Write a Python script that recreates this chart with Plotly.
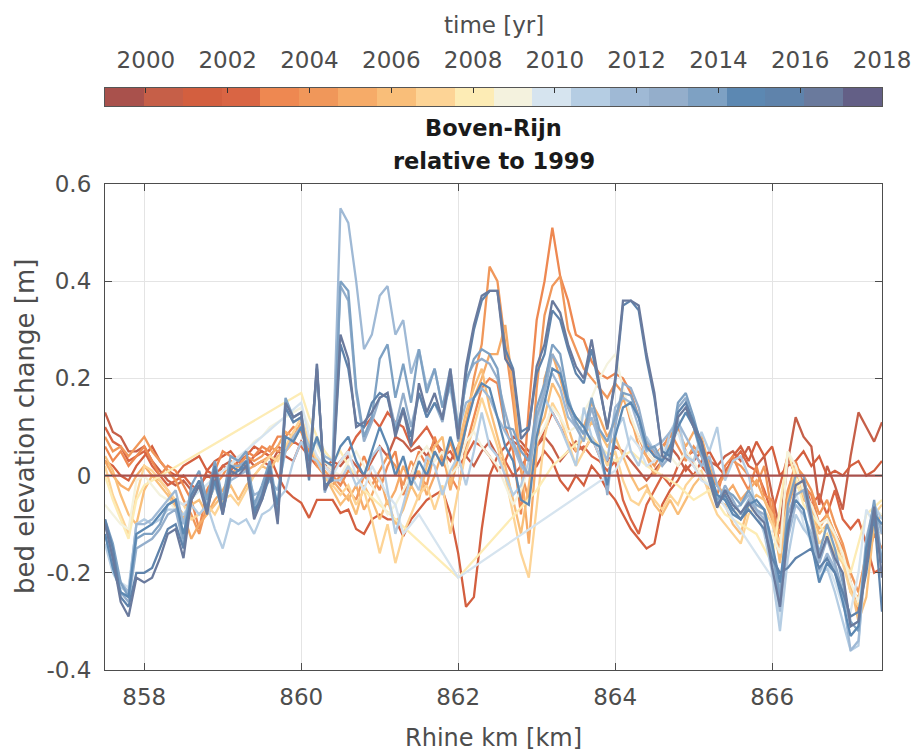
import plotly.graph_objects as go

# ---------------- data ----------------
km = [857.5, 857.6, 857.7, 857.8, 857.9, 858.0, 858.1, 858.2, 858.3, 858.4,
      858.5, 858.6, 858.7, 858.8, 858.9, 859.0, 859.1, 859.2, 859.3, 859.4,
      859.5, 859.6, 859.7, 859.8, 859.9, 860.0, 860.1, 860.2, 860.3, 860.4,
      860.5, 860.6, 860.7, 860.8, 860.9, 861.0, 861.1, 861.2, 861.3, 861.4,
      861.5, 861.6, 861.7, 861.8, 861.9, 862.0, 862.1, 862.2, 862.3, 862.4,
      862.5, 862.6, 862.7, 862.8, 862.9, 863.0, 863.1, 863.2, 863.3, 863.4,
      863.5, 863.6, 863.7, 863.8, 863.9, 864.0, 864.1, 864.2, 864.3, 864.4,
      864.5, 864.6, 864.7, 864.8, 864.9, 865.0, 865.1, 865.2, 865.3, 865.4,
      865.5, 865.6, 865.7, 865.8, 865.9, 866.0, 866.1, 866.2, 866.3, 866.4,
      866.5, 866.6, 866.7, 866.8, 866.9, 867.0, 867.1, 867.2, 867.3, 867.4]

km_1999 = [857.5, 867.4]
dz_1999 = [0.0, 0.0]

dz_2000 = [0.13, 0.09, 0.08, 0.05, 0.05, 0.06, 0.03, 0.01, -0.01, -0.02,
           -0.01, -0.03, -0.02, 0.00, -0.01, 0.02, 0.03, 0.02, 0.04, 0.02,
           0.03, 0.02, 0.05, 0.04, 0.03, 0.07, 0.05, 0.03, 0.02, 0.03,
           0.02, 0.04, 0.02, 0.00, 0.03, 0.06, 0.04, 0.08, 0.07, 0.05,
           0.06, 0.04, 0.07, 0.05, 0.03, 0.06, 0.04, 0.02, 0.05, 0.07,
           0.04, 0.06, 0.08, 0.07, 0.05, 0.06, 0.08, 0.06, 0.03, 0.05,
           0.07, 0.05, 0.08, 0.04, 0.03, 0.06, 0.05, 0.03, 0.01, -0.01,
           0.01, 0.03, 0.06, 0.04, 0.01, 0.03, 0.05, 0.03, 0.02, 0.04,
           0.05, 0.03, 0.06, 0.02, 0.04, -0.04, -0.11, 0.03, 0.12, 0.08,
           0.06, -0.06, 0.02, -0.02, -0.07, 0.04, 0.13, 0.10, 0.07, 0.11]

dz_2001 = [0.03, 0.02, 0.00, -0.01, 0.02, 0.04, 0.06, 0.03, 0.01, 0.00,
           0.02, 0.03, 0.04, 0.01, 0.03, 0.04, 0.05, 0.03, 0.04, 0.06,
           0.05, 0.04, 0.00, -0.03, -0.045, -0.056, -0.087, -0.05, -0.05, -0.05,
           -0.077, -0.07, -0.11, -0.12, -0.09, -0.08, -0.09, -0.09, -0.125, -0.09,
           -0.07, -0.05, -0.04, -0.03, -0.08, -0.16, -0.27, -0.25, -0.11, 0.00,
           0.04, 0.03, 0.07, 0.06, 0.04, 0.02, 0.05, 0.03, -0.01, -0.03,
           0.00, -0.02, 0.02, 0.00, -0.03, -0.05, -0.08, -0.11, -0.13, -0.15,
           -0.14, -0.06, -0.03, -0.01, 0.02, 0.00, 0.03, 0.05, 0.02, 0.00,
           0.04, 0.06, 0.03, 0.07, 0.04, 0.06, 0.00, 0.02, 0.03, 0.05,
           0.02, 0.04, 0.00, 0.01, 0.00, 0.02, 0.03, 0.00, 0.01, 0.03]

dz_2002 = [0.10, 0.07, 0.06, 0.03, 0.04, 0.05, 0.02, 0.00, -0.02, -0.01,
           0.00, -0.02, -0.03, 0.01, 0.00, 0.02, 0.01, 0.03, 0.02, 0.04,
           0.05, 0.04, 0.06, 0.05, 0.07, 0.06, 0.04, 0.02, 0.03, 0.01,
           0.03, 0.05, 0.08, 0.10, 0.12, 0.10, 0.13, 0.11, 0.10, 0.06,
           0.08, 0.10, 0.07, 0.04, 0.05, 0.02, 0.04, 0.07, 0.06, 0.04,
           0.01, 0.03, 0.00, 0.02, 0.04, 0.06, 0.09, 0.13, 0.10, 0.07,
           0.05, 0.06, 0.04, 0.03, 0.01, 0.03, -0.05, -0.09, -0.12, -0.06,
           -0.03, 0.00, -0.02, 0.02, 0.04, 0.05, 0.02, 0.00, -0.02, 0.01,
           0.03, 0.05, 0.02, 0.01, -0.03, -0.08, -0.02, 0.04, 0.00, -0.01,
           -0.06, -0.04, -0.08, -0.03, -0.09, -0.11, -0.09, -0.14, -0.20, -0.19]

dz_2003 = [0.06, 0.03, 0.05, 0.02, 0.04, 0.06, 0.03, 0.00, 0.02, 0.01,
           -0.02, -0.05, -0.11, -0.03, 0.01, 0.05, 0.04, 0.03, 0.05, 0.04,
           0.06, 0.05, 0.08, 0.08, 0.10, 0.09, 0.05, 0.03, 0.02, 0.00,
           -0.02, 0.01, 0.00, 0.04, 0.00, -0.03, 0.02, 0.05, -0.04, 0.00,
           0.05, 0.02, 0.08, 0.03, 0.00, -0.03, 0.06, 0.12, 0.18, 0.20,
           0.19, 0.10, 0.05, -0.08, 0.14, 0.32, 0.40, 0.51, 0.41, 0.36,
           0.29, 0.28, 0.235, 0.21, 0.20, 0.21, 0.20, 0.17, 0.12, 0.07,
           0.04, 0.06, 0.08, 0.10, 0.05, 0.02, 0.00, -0.03, -0.04, 0.02,
           0.04, 0.00, -0.03, 0.02, -0.04, -0.05, -0.15, -0.04, 0.03, -0.02,
           -0.04, -0.10, -0.08, -0.12, -0.15, -0.22, -0.28, -0.18, -0.12, -0.15]

dz_2004 = [0.08, 0.05, 0.06, 0.04, 0.06, 0.08, 0.05, 0.03, 0.01, -0.01,
           -0.05, -0.08, -0.12, -0.06, -0.02, 0.00, 0.03, 0.02, 0.04, 0.03,
           0.04, 0.06, 0.05, 0.06, 0.08, 0.10, 0.06, 0.02, 0.00, -0.02,
           0.00, -0.03, -0.05, 0.00, -0.02, 0.01, 0.04, 0.02, -0.02, 0.03,
           0.00, -0.02, 0.05, 0.02, 0.07, 0.02, 0.10, 0.20, 0.27, 0.43,
           0.40, 0.27, 0.15, 0.01, -0.05, 0.18, 0.33, 0.39, 0.41, 0.30,
           0.26, 0.22, 0.20, 0.18, 0.16, 0.19, 0.17, 0.11, 0.08, 0.04,
           0.02, 0.05, 0.09, 0.06, 0.03, 0.06, 0.04, 0.01, -0.02, 0.00,
           0.03, 0.02, 0.00, -0.02, 0.02, -0.08, -0.12, -0.03, 0.02, 0.00,
           -0.03, -0.08, -0.05, -0.10, -0.14, -0.20, -0.24, -0.16, -0.10, -0.12]

dz_2005 = [0.03, 0.00, -0.02, -0.03, 0.00, 0.02, 0.00, -0.01, -0.03, -0.06,
           -0.08, -0.13, -0.10, -0.08, -0.05, -0.03, 0.00, 0.02, 0.01, 0.02,
           0.03, 0.04, 0.06, 0.09, 0.08, 0.11, 0.07, 0.03, 0.01, -0.01,
           -0.03, -0.05, -0.02, -0.07, -0.04, 0.00, -0.06, -0.03, 0.02, -0.02,
           0.01, -0.04, 0.00, 0.05, -0.03, 0.04, 0.11, 0.16, 0.20, 0.25,
           0.25, 0.31, 0.18, 0.02, -0.14, 0.05, 0.20, 0.25, 0.20, 0.14,
           0.12, 0.10, 0.15, 0.12, 0.08, 0.11, 0.16, 0.12, 0.06, 0.04,
           0.00, 0.03, 0.07, 0.09, 0.06, 0.09, 0.08, 0.02, -0.02, -0.04,
           -0.02, -0.05, -0.03, -0.01, -0.05, -0.09, -0.17, -0.07, -0.01, -0.05,
           -0.06, -0.11, -0.08, -0.12, -0.16, -0.24, -0.25, -0.18, -0.09, -0.10]

dz_2006 = [0.04, 0.01, -0.04, -0.08, -0.10, -0.03, 0.00, -0.02, -0.04, -0.07,
           -0.09, -0.06, -0.05, -0.08, -0.06, -0.04, -0.02, -0.05, -0.02, 0.00,
           0.02, 0.01, 0.04, 0.05, 0.07, 0.10, 0.06, 0.04, 0.00, -0.03,
           -0.06, -0.04, -0.08, -0.02, -0.05, -0.09, -0.05, -0.10, -0.07, -0.02,
           -0.05, 0.02, 0.06, 0.08, -0.02, 0.06, 0.13, 0.18, 0.22, 0.14,
           0.08, 0.02, -0.05, -0.12, -0.02, 0.09, 0.12, 0.19, 0.16, 0.10,
           0.05, 0.08, 0.11, 0.09, 0.06, 0.08, 0.04, 0.00, -0.03, -0.02,
           -0.06, -0.08, -0.05, -0.08, -0.05, -0.02, 0.00, -0.03, -0.05, -0.06,
           -0.10, -0.12, -0.06, -0.04, -0.05, -0.08, -0.18, -0.05, 0.01, -0.03,
           -0.07, -0.12, -0.10, -0.13, -0.18, -0.22, -0.30, -0.25, -0.10, -0.08]

dz_2007 = [0.02, -0.04, -0.08, -0.12, -0.04, 0.02, 0.01, -0.01, -0.03, -0.05,
           -0.06, -0.09, -0.08, -0.06, -0.08, -0.05, -0.04, -0.06, -0.03, 0.00,
           0.02, 0.04, 0.03, 0.06, 0.09, 0.12, 0.07, 0.03, 0.00, -0.02,
           -0.04, -0.02, -0.06, -0.03, -0.09, -0.16, -0.10, -0.18, -0.12, -0.08,
           -0.04, -0.02, -0.07, -0.02, -0.12, -0.03, 0.05, 0.10, 0.16, 0.11,
           0.06, 0.00, -0.08, -0.16, -0.21, -0.06, 0.08, 0.15, 0.12, 0.07,
           0.02, 0.05, 0.08, 0.06, 0.02, 0.05, -0.01, -0.05, -0.06, -0.03,
           -0.05, -0.07, -0.04, -0.06, -0.02, 0.00, 0.01, -0.04, -0.08, -0.10,
           -0.12, -0.14, -0.08, -0.06, -0.07, -0.10, -0.14, -0.06, 0.02, -0.04,
           -0.08, -0.14, -0.12, -0.16, -0.18, -0.24, -0.27, -0.18, -0.08, -0.06]

km_2008 = [857.5, 857.6, 857.7, 857.8, 857.9, 858.0,
           860.0, 860.1, 860.2, 860.3, 860.4, 860.5, 860.6, 860.7, 860.8,
           862.0, 863.0,
           863.2, 863.4, 863.6, 863.8, 864.0, 864.2, 864.4, 864.6, 864.8, 865.0,
           865.2, 865.4, 865.6, 865.8, 866.0, 866.2, 866.4, 866.6, 866.8, 867.0,
           867.2, 867.4]
dz_2008 = [0.00, -0.05, -0.09, -0.13, -0.05, -0.02,
           0.17, 0.12, 0.08, 0.05, 0.03, 0.05, 0.02, 0.00, -0.03,
           -0.21, -0.03,
           0.02, 0.05, 0.08, 0.06, 0.03, 0.05, 0.02, 0.00, -0.02, -0.05,
           -0.03, -0.08, -0.10, -0.12, -0.18, 0.05, -0.06, -0.10, -0.15, -0.20,
           -0.08, -0.05]

dz_2009 = [-0.06, -0.08, -0.10, -0.11, -0.01, 0.00, -0.02, -0.04, -0.05, -0.07,
           -0.08, -0.05, -0.03, -0.02, 0.00, 0.01, 0.02, 0.04, 0.05, 0.07,
           0.08, 0.10, 0.11, 0.12, 0.13, 0.14, 0.10, 0.06, 0.03, 0.01,
           0.00, 0.03, 0.05, 0.02, -0.02, -0.05, -0.08, -0.06, -0.03, 0.00,
           0.04, 0.06, 0.03, 0.05, 0.00, 0.02, 0.07, 0.09, 0.06, 0.04,
           0.02, -0.02, -0.06, -0.03, 0.02, 0.07, 0.10, 0.14, 0.12, 0.09,
           0.10, 0.13, 0.16, 0.20, 0.23, 0.25, 0.18, 0.12, 0.08, 0.05,
           0.03, 0.06, 0.04, 0.02, 0.05, 0.03, 0.00, -0.02, -0.04, -0.05,
           -0.07, -0.08, -0.06, -0.08, -0.09, -0.12, -0.16, 0.05, 0.02, -0.03,
           -0.06, -0.10, -0.09, -0.12, -0.16, -0.22, -0.26, -0.17, -0.07, -0.08]

km_2010 = [857.5, 857.6, 857.7, 857.8, 857.9, 858.0, 858.1, 858.2, 858.3, 858.4, 858.5,
           860.0, 860.1, 860.2, 860.3, 860.4, 860.5, 860.6, 860.7, 860.8, 860.9,
           861.0, 861.1, 861.2, 861.3, 861.4, 861.5,
           862.0,
           864.0, 864.1, 864.2, 864.3, 864.4, 864.5, 864.6, 864.7, 864.8, 864.9,
           865.0, 865.1, 865.2, 865.3,
           866.0, 866.1, 866.2, 866.3, 866.4, 866.5, 866.6, 866.7, 866.8, 866.9,
           867.0, 867.1, 867.2, 867.3, 867.4]
dz_2010 = [-0.10, -0.16, -0.22, -0.23, -0.10, -0.09, -0.10, -0.08, -0.06, -0.05, -0.06,
           0.15, 0.08, 0.04, 0.02, 0.00, 0.03, 0.05, 0.00, -0.03, 0.02,
           -0.01, -0.04, -0.06, -0.12, -0.10, -0.08,
           -0.21,
           0.01, 0.04, 0.08, 0.06, 0.02, 0.03, 0.05, 0.07, 0.09, 0.04,
           0.02, -0.01, -0.02, -0.04,
           -0.21, -0.30, -0.08, -0.03, -0.10, -0.14, -0.20, -0.18, -0.22, -0.27,
           -0.28, -0.20, -0.07, -0.10, -0.12]

dz_2011 = [-0.14, -0.20, -0.23, -0.24, -0.10, -0.09, -0.10, -0.09, -0.07, -0.07,
           -0.08, -0.06, -0.08, -0.06, -0.11, -0.15, -0.09, -0.10, -0.09, -0.12,
           -0.08, -0.07, -0.05, -0.03, 0.03, 0.07, 0.04, 0.03, 0.00, -0.01,
           -0.01, 0.02, -0.02, 0.00, 0.04, 0.06, -0.03, -0.12, -0.06, 0.00,
           -0.03, 0.04, 0.02, -0.04, 0.01, 0.04, -0.02, 0.05, 0.13, 0.06,
           0.04, 0.00, -0.04, -0.02, 0.03, 0.10, 0.16, 0.13, 0.10, 0.06,
           0.02, 0.14, 0.08, 0.04, -0.02, 0.09, 0.12, 0.05, 0.02, 0.08,
           0.05, 0.02, 0.09, 0.12, 0.04, 0.03, 0.09, 0.05, 0.10, -0.01,
           0.03, 0.04, 0.00, -0.07, -0.12, -0.20, -0.32, -0.17, -0.08, -0.11,
           -0.13, -0.21, -0.19, -0.24, -0.30, -0.36, -0.35, -0.14, -0.06, -0.09]

dz_2012 = [-0.12, -0.18, -0.22, -0.24, -0.10, -0.10, -0.09, -0.07, -0.05, -0.03,
           -0.10, -0.03, -0.02, -0.06, -0.02, -0.07, -0.01, 0.00, 0.01, -0.04,
           -0.03, -0.01, -0.03, 0.05, 0.08, 0.10, 0.06, 0.07, 0.04, 0.03,
           0.55, 0.52, 0.40, 0.26, 0.29, 0.37, 0.39, 0.29, 0.32, 0.21,
           0.26, 0.18, 0.22, 0.14, 0.18, 0.09, 0.15, 0.16, 0.18, 0.16,
           0.12, 0.09, 0.06, 0.02, 0.00, 0.12, 0.18, 0.21, 0.18, 0.12,
           0.10, 0.09, 0.12, 0.07, 0.03, 0.14, 0.16, 0.15, 0.10, 0.05,
           0.06, 0.07, 0.09, 0.11, 0.08, 0.05, 0.02, 0.04, -0.02, -0.05,
           -0.07, -0.06, -0.04, -0.07, -0.09, -0.17, -0.28, -0.13, -0.06, -0.08,
           -0.12, -0.20, -0.16, -0.19, -0.25, -0.36, -0.34, -0.16, -0.07, -0.11]

dz_2013 = [-0.10, -0.16, -0.24, -0.26, -0.15, -0.14, -0.13, -0.11, -0.08, -0.07,
           -0.14, -0.04, -0.01, -0.05, 0.01, -0.05, 0.02, 0.02, 0.03, -0.07,
           -0.03, 0.02, -0.08, 0.14, 0.11, 0.12, 0.00, 0.23, -0.035, 0.01,
           0.39, 0.36, 0.17, 0.07, 0.11, 0.16, 0.17, 0.10, 0.17, 0.10,
           0.17, 0.12, 0.15, 0.11, 0.20, 0.07, 0.20, 0.23, 0.24, 0.23,
           0.20, 0.13, 0.07, 0.03, 0.00, 0.12, 0.17, 0.25, 0.22, 0.14,
           0.10, 0.07, 0.14, 0.08, -0.04, 0.10, 0.19, 0.18, 0.14, 0.07,
           0.05, 0.02, 0.04, 0.14, 0.16, 0.10, 0.04, -0.01, -0.06, -0.02,
           -0.05, -0.08, -0.05, -0.07, -0.08, -0.16, -0.24, -0.08, -0.04, -0.03,
           -0.10, -0.18, -0.13, -0.18, -0.24, -0.31, -0.30, -0.13, -0.06, -0.12]

dz_2014 = [-0.09, -0.14, -0.22, -0.25, -0.13, -0.12, -0.12, -0.10, -0.06, -0.05,
           -0.13, -0.02, 0.01, -0.05, 0.03, -0.05, 0.04, 0.03, 0.05, -0.06,
           -0.02, 0.03, -0.07, 0.16, 0.12, 0.13, 0.02, 0.22, -0.03, 0.00,
           0.40, 0.38, 0.18, 0.08, 0.12, 0.24, 0.27, 0.16, 0.23, 0.15,
           0.26, 0.17, 0.22, 0.14, 0.22, 0.10, 0.19, 0.24, 0.26, 0.25,
           0.22, 0.10, 0.095, 0.05, 0.03, 0.14, 0.19, 0.27, 0.25, 0.16,
           0.11, 0.085, 0.16, 0.095, 0.07, 0.12, 0.17, 0.165, 0.12, 0.054,
           0.06, 0.03, 0.05, 0.15, 0.17, 0.12, 0.06, 0.00, -0.05, -0.03,
           -0.04, -0.06, -0.03, -0.06, -0.07, -0.14, -0.26, -0.06, 0.00, 0.00,
           -0.08, -0.16, -0.10, -0.15, -0.22, -0.30, -0.32, -0.15, -0.05, -0.18]

dz_2015 = [-0.12, -0.19, -0.24, -0.25, -0.12, -0.11, -0.10, -0.08, -0.06, -0.05,
           -0.12, -0.05, -0.02, -0.07, -0.01, -0.08, 0.00, 0.01, 0.02, -0.07,
           -0.05, 0.00, -0.06, 0.08, 0.07, 0.10, 0.03, 0.08, 0.03, 0.02,
           0.06, 0.08, 0.03, 0.00, 0.05, 0.10, 0.06, 0.00, 0.04, -0.02,
           0.03, 0.00, 0.05, 0.02, 0.08, 0.03, 0.10, 0.16, 0.19, 0.18,
           0.12, 0.06, 0.03, -0.05, -0.06, 0.08, 0.15, 0.22, 0.21, 0.15,
           0.12, 0.10, 0.07, 0.06, -0.02, 0.08, 0.14, 0.15, 0.12, 0.06,
           0.04, 0.03, 0.06, 0.10, 0.13, 0.10, 0.05, 0.01, -0.04, -0.05,
           -0.08, -0.09, -0.06, -0.05, -0.07, -0.14, -0.22, -0.10, -0.05, -0.07,
           -0.14, -0.22, -0.18, -0.20, -0.26, -0.33, -0.31, -0.15, -0.08, -0.10]

dz_2016 = [-0.09, -0.15, -0.25, -0.27, -0.20, -0.20, -0.19, -0.15, -0.11, -0.10,
           -0.15, -0.04, -0.01, -0.07, 0.02, -0.07, 0.02, 0.01, 0.03, -0.08,
           -0.04, 0.02, -0.09, 0.14, 0.11, 0.12, -0.01, 0.22, -0.02, -0.01,
           0.27, 0.22, 0.11, 0.10, 0.15, 0.17, 0.16, 0.09, 0.14, 0.08,
           0.17, 0.12, 0.15, 0.12, 0.20, 0.08, 0.21, 0.30, 0.36, 0.38,
           0.38, 0.26, 0.22, 0.09, 0.10, 0.21, 0.25, 0.34, 0.32, 0.26,
           0.21, 0.19, 0.26, 0.18, 0.10, 0.19, 0.35, 0.36, 0.34, 0.24,
           0.16, 0.05, 0.04, 0.13, 0.15, 0.11, 0.07, 0.01, -0.06, -0.04,
           -0.07, -0.09, -0.07, -0.09, -0.11, -0.17, -0.20, -0.19, -0.17, -0.16,
           -0.15, -0.19, -0.17, -0.20, -0.24, -0.29, -0.28, -0.20, -0.08, -0.28]

dz_2017 = [-0.10, -0.17, -0.26, -0.29, -0.21, -0.22, -0.21, -0.17, -0.12, -0.11,
           -0.17, -0.05, -0.02, -0.08, 0.01, -0.08, 0.01, 0.00, 0.02, -0.09,
           -0.05, 0.01, -0.10, 0.15, 0.12, 0.13, 0.00, 0.23, -0.03, 0.00,
           0.29, 0.24, 0.10, 0.11, 0.13, 0.16, 0.17, 0.08, 0.135, 0.06,
           0.19, 0.13, 0.17, 0.115, 0.22, 0.075, 0.225, 0.31, 0.37, 0.38,
           0.38, 0.24, 0.215, 0.075, 0.095, 0.225, 0.27, 0.36, 0.335, 0.27,
           0.225, 0.20, 0.28, 0.19, 0.095, 0.20, 0.36, 0.36, 0.35, 0.25,
           0.17, 0.04, 0.03, 0.12, 0.14, 0.10, 0.07, -0.01, -0.066, -0.03,
           -0.06, -0.077, -0.056, -0.08, -0.097, -0.19, -0.27, -0.12, -0.02, -0.01,
           -0.09, -0.17, -0.125, -0.17, -0.20, -0.31, -0.30, -0.18, -0.064, -0.21]

# drawing order: oldest first, reference year (1999) on top
years = [2000, 2001, 2002, 2003, 2004, 2005, 2006, 2007, 2008, 2009,
         2010, 2011, 2012, 2013, 2014, 2015, 2016, 2017, 1999]

series = {
    1999: (km_1999, dz_1999), 2000: (km, dz_2000), 2001: (km, dz_2001),
    2002: (km, dz_2002), 2003: (km, dz_2003), 2004: (km, dz_2004),
    2005: (km, dz_2005), 2006: (km, dz_2006), 2007: (km, dz_2007),
    2008: (km_2008, dz_2008), 2009: (km, dz_2009), 2010: (km_2010, dz_2010),
    2011: (km, dz_2011), 2012: (km, dz_2012), 2013: (km, dz_2013),
    2014: (km, dz_2014), 2015: (km, dz_2015), 2016: (km, dz_2016),
    2017: (km, dz_2017),
}

# discrete colormap of the time colorbar (20 bins, 1999 -> 2018)
cb_colors = ['#a9514c', '#c65f48', '#d35f3f', '#d96544', '#ee8851',
             '#f0975a', '#f6ab68', '#f9be79', '#fdd496', '#fdecb5',
             '#f4f2de', '#d6e4ef', '#b5cde3', '#9fb9d5', '#94aecb',
             '#7ea1c3', '#5c88b2', '#5f83ab', '#6a7a9d', '#635f86']
cb_min, cb_max = 1999, 2018
cb_ticks = [2000, 2002, 2004, 2006, 2008, 2010, 2012, 2014, 2016, 2018]

x_ticks = [858, 860, 862, 864, 866]
y_ticks = [-0.4, -0.2, 0, 0.2, 0.4, 0.6]
y_ticktext = ['-0.4', '-0.2', '0', '0.2', '0.4', '0.6']

# ---------------- figure ----------------
n = len(cb_colors)
width_bin = (cb_max - cb_min) / n


def year_color(y):
    k = int((y - cb_min) / width_bin + 1e-9)
    return cb_colors[min(max(k, 0), n - 1)]


fig = go.Figure()

for yr in years:
    xs, ys = series[yr]
    assert len(xs) == len(ys), yr
    fig.add_trace(go.Scatter(
        x=xs, y=ys, mode='lines', name=str(yr),
        line=dict(color=year_color(yr), width=2.3),
        xaxis='x', yaxis='y', showlegend=False))

# colorbar drawn as a heatmap strip
edges = [cb_min + width_bin * k for k in range(n + 1)]
cscale = []
for k, c in enumerate(cb_colors):
    cscale.append([k / n, c])
    cscale.append([(k + 1) / n, c])
fig.add_trace(go.Heatmap(
    z=[list(range(n))], x=edges, y=[0, 1], colorscale=cscale,
    zmin=-0.5, zmax=n - 0.5, showscale=False, xaxis='x2', yaxis='y2',
    hoverinfo='skip'))

W, H = 919, 755
ml, mr, mt, mb = 105, 37, 0, 85
ph = H - mt - mb
pw = W - ml - mr


def py(p):
    return (H - mb - p) / ph


def px(p):
    return (p - ml) / pw


axis_col = '#4d4d4d'
font_fam = 'DejaVu Sans'

fig.update_layout(
    width=W, height=H, autosize=False,
    margin=dict(l=ml, r=mr, t=mt, b=mb, pad=0, autoexpand=False),
    paper_bgcolor='white', plot_bgcolor='white',
    showlegend=False,
    font=dict(family=font_fam, size=23, color=axis_col),
    xaxis=dict(domain=[0, 1], range=[857.5, 867.4], anchor='y',
               tickvals=x_ticks, ticks='inside', ticklen=7, tickwidth=1,
               tickcolor=axis_col, showline=True, linecolor=axis_col,
               linewidth=1.2, mirror='ticks', showgrid=True,
               gridcolor='#e4e4e4', gridwidth=1, zeroline=False,
               ticklabelstandoff=6, automargin=False,
               tickfont=dict(family=font_fam, size=23, color=axis_col)),
    yaxis=dict(domain=[0, py(184)], range=[-0.4, 0.6], anchor='x',
               tickvals=y_ticks, ticktext=y_ticktext, ticks='inside',
               ticklen=7, tickwidth=1, tickcolor=axis_col, showline=True,
               linecolor=axis_col, linewidth=1.2, mirror='ticks',
               showgrid=True, gridcolor='#e4e4e4', gridwidth=1,
               zeroline=False, ticklabelstandoff=8, automargin=False,
               tickfont=dict(family=font_fam, size=23, color=axis_col)),
    xaxis2=dict(domain=[0, 1], range=[cb_min, cb_max], anchor='y2',
                side='top', tickvals=cb_ticks, ticks='inside', ticklen=5,
                tickwidth=1, tickcolor='#333333', showline=True,
                linecolor='#555555', linewidth=1, mirror=True,
                showgrid=False, zeroline=False, ticklabelstandoff=10,
                automargin=False,
                tickfont=dict(family=font_fam, size=23, color=axis_col)),
    yaxis2=dict(domain=[py(106), py(88)], range=[0, 1], anchor='x2',
                showticklabels=False, ticks='', showline=True,
                linecolor='#555555', linewidth=1, mirror=True,
                showgrid=False, zeroline=False, automargin=False),
    annotations=[
        dict(text='time [yr]', x=0.5, y=py(25), xref='paper', yref='paper',
             showarrow=False, xanchor='center', yanchor='middle',
             font=dict(family=font_fam, size=23, color=axis_col)),
        dict(text='<b>Boven-Rijn</b>', x=0.5, y=py(128), xref='paper',
             yref='paper', showarrow=False, xanchor='center',
             yanchor='middle',
             font=dict(family=font_fam, size=22.5, color='#1a1a1a')),
        dict(text='<b>relative to 1999</b>', x=0.5, y=py(161),
             xref='paper', yref='paper', showarrow=False,
             xanchor='center', yanchor='middle',
             font=dict(family=font_fam, size=22.5, color='#1a1a1a')),
        dict(text='Rhine km [km]', x=0.5, y=py(738), xref='paper',
             yref='paper', showarrow=False, xanchor='center',
             yanchor='middle',
             font=dict(family=font_fam, size=24, color=axis_col)),
        dict(text='bed elevation change [m]', x=px(25), y=py(427),
             xref='paper', yref='paper', showarrow=False, textangle=-90,
             xanchor='center', yanchor='middle',
             font=dict(family=font_fam, size=26, color=axis_col)),
    ],
)

fig.write_html(
    'out.html',
    config={'displayModeBar': False},
    post_script="document.body.style.margin='0px';"
                "document.body.style.padding='0px';"
                "document.body.style.overflow='hidden';")
